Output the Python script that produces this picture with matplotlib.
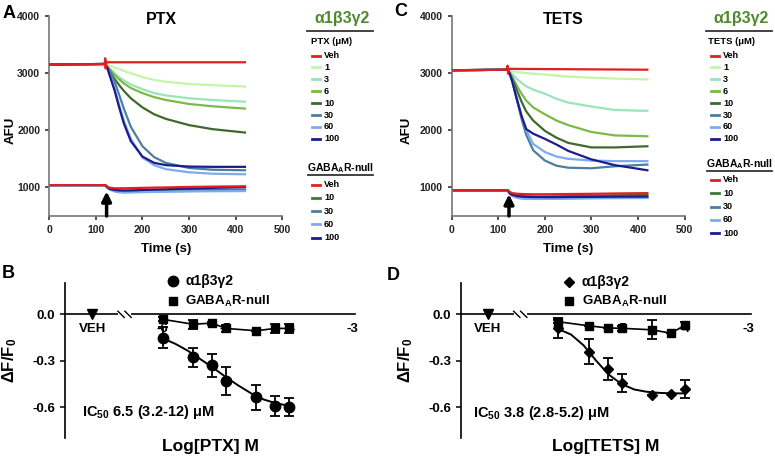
import matplotlib.pyplot as plt

plt.rcParams['font.family'] = ['Liberation Sans', 'DejaVu Sans']
plt.rcParams['font.weight'] = 'bold'
plt.rcParams['axes.labelweight'] = 'bold'
plt.rcParams['mathtext.fontset'] = 'custom'
plt.rcParams['mathtext.rm'] = 'Liberation Sans:bold'
plt.rcParams['mathtext.it'] = 'Liberation Sans:bold'
plt.rcParams['mathtext.bf'] = 'Liberation Sans:bold'
plt.rcParams['axes.linewidth'] = 1.2

# ---- time courses (A, C) ----
t = [0, 120, 125, 130, 140, 150, 160, 175, 200, 225, 250, 300, 350, 420]
t_veh = [0, 119, 120, 121, 122, 125, 420]
doses = ['Veh', '1', '3', '6', '10', '30', '60', '100']
null_doses = ['Veh', '10', '30', '60', '100']
dose_colors = ['#e02020', '#c4f5a8', '#98e6b8', '#7cba48', '#3e6a2c', '#4b7f9e', '#7eaaf0', '#1c1c8c']
null_colors = ['#e02020', '#3f7a3a', '#4b7f9e', '#7eaaf0', '#1c1c8c']

ptx_veh = [3150, 3160, 3260, 3080, 3200, 3190, 3190]
ptx_1 = [3150, 3160, 3150, 3130, 3100, 3070, 3040, 3000, 2930, 2880, 2850, 2810, 2790, 2765]
ptx_3 = [3150, 3160, 3120, 3080, 3000, 2930, 2870, 2800, 2720, 2650, 2610, 2560, 2530, 2500]
ptx_6 = [3150, 3160, 3110, 3060, 2970, 2890, 2820, 2740, 2650, 2580, 2530, 2460, 2420, 2380]
ptx_10 = [3150, 3160, 3100, 3020, 2900, 2790, 2690, 2560, 2400, 2280, 2200, 2090, 2020, 1960]
ptx_30 = [3150, 3160, 3100, 3040, 2850, 2620, 2380, 2060, 1720, 1530, 1430, 1340, 1310, 1300]
ptx_60 = [3150, 3160, 3080, 2960, 2720, 2440, 2170, 1850, 1520, 1390, 1320, 1265, 1240, 1230]
ptx_100 = [3150, 3160, 3080, 2950, 2700, 2400, 2120, 1810, 1540, 1430, 1390, 1365, 1360, 1360]

ptx_null_veh = [1040, 1040, 1010, 995, 985, 985, 985, 988, 992, 997, 1000, 1008, 1014, 1020]
ptx_null_10 = [1040, 1040, 1000, 975, 955, 945, 940, 940, 942, 945, 948, 952, 956, 960]
ptx_null_30 = [1040, 1040, 995, 965, 940, 925, 920, 920, 925, 930, 933, 938, 943, 948]
ptx_null_60 = [1040, 1040, 990, 960, 930, 915, 910, 912, 918, 922, 926, 930, 933, 936]
ptx_null_100 = [1040, 1040, 1000, 975, 955, 948, 946, 948, 955, 962, 968, 980, 992, 1005]

tets_veh = [3050, 3060, 3130, 2990, 3080, 3075, 3060]
tets_1 = [3050, 3060, 3040, 3030, 3020, 3010, 3000, 2990, 2975, 2955, 2940, 2920, 2905, 2890]
tets_3 = [3050, 3060, 3020, 2980, 2900, 2830, 2770, 2710, 2640, 2550, 2485, 2415, 2355, 2340]
tets_6 = [3050, 3060, 3000, 2930, 2780, 2640, 2520, 2400, 2280, 2170, 2090, 1970, 1910, 1895]
tets_10 = [3050, 3060, 2990, 2900, 2700, 2500, 2330, 2170, 1990, 1870, 1780, 1700, 1700, 1720]
tets_30 = [3050, 3060, 2970, 2850, 2530, 2200, 1920, 1650, 1470, 1380, 1345, 1335, 1370, 1400]
tets_60 = [3050, 3060, 2980, 2870, 2560, 2250, 2000, 1760, 1620, 1540, 1500, 1470, 1460, 1460]
tets_100 = [3050, 3060, 2980, 2860, 2540, 2250, 2020, 1940, 1850, 1750, 1640, 1490, 1390, 1300]

tets_null_veh = [950, 950, 920, 900, 890, 885, 882, 880, 880, 882, 884, 888, 894, 900]
tets_null_10 = [950, 950, 905, 880, 860, 850, 845, 842, 842, 845, 848, 855, 862, 870]
tets_null_30 = [950, 950, 890, 860, 830, 815, 808, 805, 805, 808, 812, 818, 825, 830]
tets_null_60 = [950, 950, 880, 850, 820, 805, 800, 798, 798, 800, 803, 808, 812, 815]
tets_null_100 = [950, 950, 895, 870, 850, 840, 835, 832, 830, 830, 832, 835, 838, 840]

# ---- concentration-response (B, D) ----
log_conc = [-6, -5.52, -5.22, -5, -4.52, -4.22, -4]
veh_x = -7.11
ptx_alpha = [-0.15, -0.277, -0.33, -0.43, -0.536, -0.589, -0.596]
ptx_alpha_err = [0.065, 0.062, 0.072, 0.092, 0.083, 0.064, 0.058]
ptx_null = [-0.032, -0.064, -0.057, -0.091, -0.106, -0.091, -0.091]
ptx_null_err = [0.012, 0.03, 0.01, 0.02, 0.0, 0.03, 0.03]
ptx_fit_x = [-6, -5.8, -5.6, -5.4, -5.2, -5.0, -4.8, -4.6, -4.4, -4.2, -4.0]
ptx_fit_y = [-0.155, -0.19, -0.235, -0.29, -0.345, -0.405, -0.46, -0.51, -0.55, -0.575, -0.59]

tets_alpha = [-0.09, -0.242, -0.354, -0.442, -0.52, -0.516, -0.48]
tets_alpha_err = [0.065, 0.08, 0.07, 0.06, 0.0, 0.0, 0.057]
tets_null = [-0.048, -0.074, -0.088, -0.09, -0.1, -0.122, -0.07]
tets_null_err = [0.01, 0.0, 0.0, 0.015, 0.062, 0.0, 0.02]
tets_fit_x = [-6, -5.8, -5.6, -5.4, -5.2, -5.0, -4.8, -4.6, -4.4, -4.2, -4.0]
tets_fit_y = [-0.095, -0.13, -0.2, -0.3, -0.39, -0.45, -0.485, -0.5, -0.507, -0.51, -0.51]


fig = plt.figure(figsize=(7.75, 4.58), dpi=100)
ov = fig.add_axes([0, 0, 1, 1], zorder=10)
ov.set_xlim(0, 775)
ov.set_ylim(458, 0)
ov.axis('off')
ov.patch.set_alpha(0)


def time_panel(rect, title, veh, curves, null_curves, ylab_x):
    ax = fig.add_axes(rect)
    ax.plot(t_veh, veh, color=dose_colors[0], lw=1.6, zorder=3)
    for vals, c in zip(curves, dose_colors[1:]):
        ax.plot(t, vals, color=c, lw=1.6)
    for vals, c in zip(null_curves[1:], null_colors[1:]):
        ax.plot(t, vals, color=c, lw=1.6)
    ax.plot(t, null_curves[0], color=null_colors[0], lw=1.6)
    ax.annotate('', xy=(123, 930 if title == 'PTX' else 880), xytext=(123, 500),
                arrowprops=dict(arrowstyle='-|>', lw=2.5, color='k', mutation_scale=14,
                                shrinkA=0, shrinkB=0))
    ax.set_xlim(0, 500)
    ax.set_ylim(500, 4000)
    ax.set_xticks([0, 100, 200, 300, 400, 500])
    ax.set_yticks([1000, 2000, 3000, 4000])
    ax.tick_params(labelsize=7.5, length=3, width=1.1, colors='#222222')
    for s in ['top', 'right']:
        ax.spines[s].set_visible(False)
    for s in ['left', 'bottom']:
        ax.spines[s].set_color('#777777')
    ax.set_xlabel('Time (s)', fontsize=9.5, labelpad=6)
    ax.set_ylabel('AFU', fontsize=9.5)
    ax.yaxis.set_label_coords(ylab_x, 0.43)
    ax.text(0.48, 0.98, title, transform=ax.transAxes, ha='center', va='center', fontsize=11.5)
    return ax


def draw_legend(x0, y_head, drug, rows, null_rows):
    ov.text(x0 + 35, y_head, 'α1β3γ2', color='#4d8a2e', fontsize=11.5, ha='center', va='center')
    ov.plot([x0, x0 + 66], [y_head + 12.5, y_head + 12.5], color='#333333', lw=1.3)
    ov.text(x0 + 25, y_head + 23, drug + ' (μM)', fontsize=6.8, ha='center', va='center')
    for i, (lab, c) in enumerate(zip(doses, dose_colors)):
        y = rows + i * 11.9
        ov.plot([x0 + 5, x0 + 13], [y, y], color=c, lw=2)
        ov.text(x0 + 17, y, lab, fontsize=6.5, va='center')
    ov.text(x0 + 33, null_rows - 16, 'GABA$_\\mathrm{A}$R-null', fontsize=7.5, ha='center', va='center')
    ov.plot([x0 + 1, x0 + 66], [null_rows - 9.5, null_rows - 9.5], color='#333333', lw=1.3)
    for i, (lab, c) in enumerate(zip(null_doses, null_colors)):
        y = null_rows + i * 13.3
        ov.plot([x0 + 5, x0 + 13], [y, y], color=c, lw=2)
        ov.text(x0 + 17, y, lab, fontsize=6.5, va='center')


def dose_panel(rect, alpha, alpha_err, null, null_err, fit_x, fit_y, mk, ms, drug):
    ax = fig.add_axes(rect)
    ax.plot(fit_x, fit_y, color='k', lw=1.4, zorder=3)
    ax.errorbar(log_conc, alpha, yerr=alpha_err, fmt='none', ecolor='k', elinewidth=1.3,
                capsize=3.5, capthick=1.3, zorder=3)
    ax.plot(log_conc, alpha, mk, color='k', ms=ms, zorder=4, clip_on=False)
    ax.errorbar(log_conc, null, yerr=null_err, fmt='s-', color='k', ms=6, lw=1.2,
                elinewidth=1.3, capsize=3.5, capthick=1.3, zorder=4, clip_on=False)
    ax.plot([veh_x], [0.005], 'v', color='k', ms=7, zorder=4, clip_on=False)
    ax.set_xlim(-7.54, -2.96)
    ax.set_ylim(-0.8, 0.2)
    ax.spines['bottom'].set_position(('data', 0))
    for s in ['top', 'right']:
        ax.spines[s].set_visible(False)
    ax.set_xticks([veh_x, -6, -5, -4, -3])
    ax.set_xticklabels(['VEH', '-6', '-5', '-4', '-3'])
    ax.get_xticklabels()[0].set_fontsize(8)
    ax.tick_params(axis='x', labelsize=9.5, length=0, pad=6)
    ax.set_yticks([0, -0.3, -0.6])
    ax.set_yticklabels(['0.0', '-0.3', '-0.6'])
    ax.tick_params(axis='y', labelsize=9.5, length=3.5, width=1.1)
    # axis break
    bx = -6.6
    ax.plot([bx - 0.07, bx + 0.07], [0, 0], color='white', lw=3, zorder=5, clip_on=False)
    for dx in (-0.055, 0.055):
        ax.plot([bx + dx - 0.05, bx + dx + 0.05], [0.02, -0.02], color='k', lw=1, zorder=6, clip_on=False)
    ax.set_ylabel('ΔF/F$_\\mathrm{0}$', fontsize=12)
    ax.yaxis.set_label_coords(-0.158, 0.5)
    ax.set_xlabel('Log[' + drug + '] M', fontsize=12.5)
    ax.xaxis.set_label_coords(0.5, -0.005)
    return ax


time_panel([0.0636, 0.5284, 0.3006, 0.4367], 'PTX',
           ptx_veh, [ptx_1, ptx_3, ptx_6, ptx_10, ptx_30, ptx_60, ptx_100],
           [ptx_null_veh, ptx_null_10, ptx_null_30, ptx_null_60, ptx_null_100], -0.139)
time_panel([0.5828, 0.5284, 0.3006, 0.4367], 'TETS',
           tets_veh, [tets_1, tets_3, tets_6, tets_10, tets_30, tets_60, tets_100],
           [tets_null_veh, tets_null_10, tets_null_30, tets_null_60, tets_null_100], -0.166)

draw_legend(307, 18, 'PTX', 55.5, 184.5)
draw_legend(706, 18, 'TETS', 55.5, 180)

axb = dose_panel([0.0839, 0.043, 0.3742, 0.3384], ptx_alpha, ptx_alpha_err, ptx_null, ptx_null_err,
                 ptx_fit_x, ptx_fit_y, 'o', 7.5, 'PTX')
axd = dose_panel([0.5945, 0.043, 0.3742, 0.3384], tets_alpha, tets_alpha_err, tets_null, tets_null_err,
                 tets_fit_x, tets_fit_y, 'D', 5.5, 'TETS')

# legends and IC50 labels of B and D
ov.plot([173], [281], 'o', color='k', ms=7.5)
ov.plot([173], [301], 's', color='k', ms=6)
ov.text(185, 281, 'α1β3γ2', fontsize=10, va='center')
ov.text(185, 301, 'GABA$_\\mathrm{A}$R-null', fontsize=9.5, va='center')
ov.text(82, 412, 'IC$_\\mathrm{50}$ 6.5 (3.2-12) μM', fontsize=10.5, va='center')

ov.plot([569], [282], 'D', color='k', ms=5.5)
ov.plot([569], [301], 's', color='k', ms=6)
ov.text(582, 282, 'α1β3γ2', fontsize=10, va='center')
ov.text(582, 301, 'GABA$_\\mathrm{A}$R-null', fontsize=9.5, va='center')
ov.text(473, 413, 'IC$_\\mathrm{50}$ 3.8 (2.8-5.2) μM', fontsize=10.5, va='center')

for lab, x, y in [('A', 9, 13), ('B', 8, 273), ('C', 401, 12), ('D', 393, 275)]:
    ov.text(x, y, lab, fontsize=13, ha='center', va='center')

fig.savefig('out.png', dpi=100)
